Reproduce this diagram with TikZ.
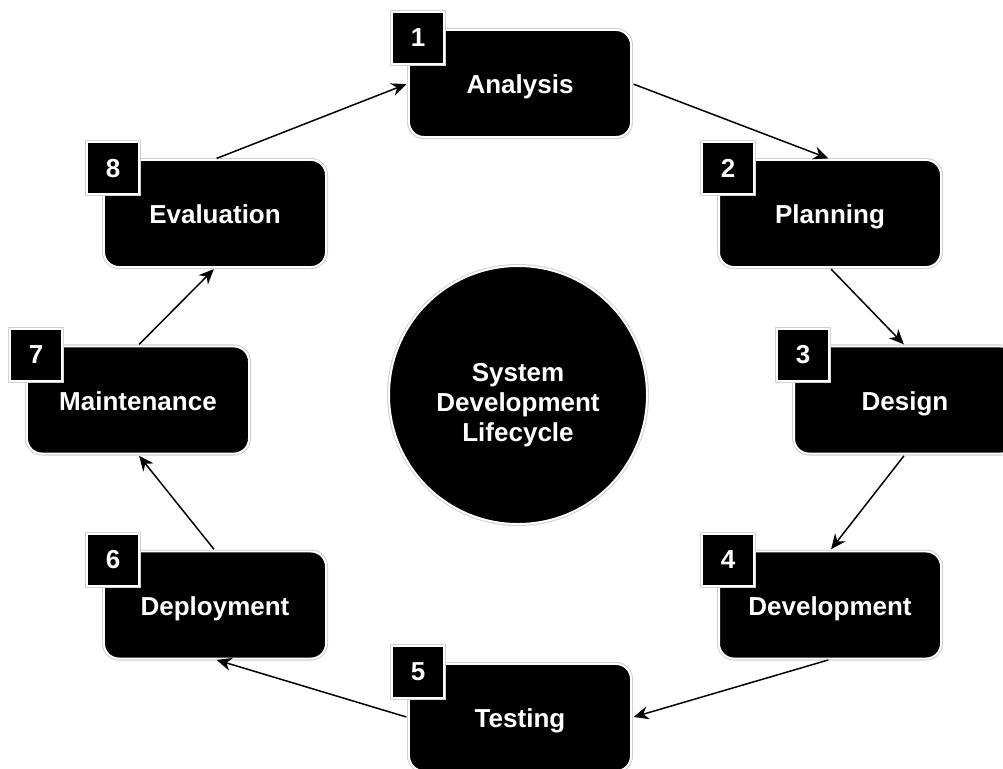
\documentclass[tikz,border=0pt]{standalone}
\usepackage{fontspec}
\setmainfont{Liberation Sans}
\usetikzlibrary{arrows.meta,positioning}

\begin{document}
\begin{tikzpicture}[x=0.02cm,y=-0.02cm,
        stage/.style={rectangle,rounded corners=0.3cm,fill=black,text=white,
            draw=white,line width=1.1pt,preaction={draw=black!18,line width=2.3pt},
            minimum width=4.44cm,minimum height=2.14cm,
            text height=1.35em,text depth=0.2em,
            font=\bfseries\fontsize{14.8}{17}\selectfont},
        numbox/.style={rectangle,fill=black,text=white,
            draw=white,line width=1.1pt,preaction={draw=black!18,line width=2.3pt},
            minimum size=1.04cm,font=\bfseries\fontsize{14.8}{17}\selectfont},
        hub/.style={circle,fill=black,
            draw=white,line width=1.1pt,preaction={draw=black!18,line width=2.3pt},
            minimum size=5.16cm},
        hubtext/.style={text=white,align=center,
            font=\bfseries\fontsize{14.8}{17}\selectfont},
        flow/.style={-{Stealth[length=8.5pt,width=7.5pt]},line width=0.85pt,
            shorten >=1pt,shorten <=1pt}]
            \useasboundingbox (0,0) rectangle (1003,768);
            \clip (0,0) rectangle (1003,768);

            \node[hub] (sdlc) at (518,395) {};
            \node[hubtext] (sdlctext) at ([yshift=-0.2cm]sdlc.center) {System\\Development\\Lifecycle};

            \node[stage] (analysis) at (520,83.5) {Analysis};
            \node[stage] (planning) at (830,213.5) {Planning};
            \node[stage] (design) at (905,400) {Design};
            \node[stage] (development) at (830,605) {Development};
            \node[stage] (testing) at (520,717.5) {Testing};
            \node[stage] (deployment) at (215,605) {Deployment};
            \node[stage] (maintenance) at (138,400) {Maintenance};
            \node[stage] (evaluation) at (215,213.5) {Evaluation};

            \node[numbox] (n1) at ([xshift=0.2cm,yshift=-0.18cm]analysis.north west) {1};
            \node[numbox] (n2) at ([xshift=0.2cm,yshift=-0.18cm]planning.north west) {2};
            \node[numbox] (n3) at ([xshift=0.2cm,yshift=-0.18cm]design.north west) {3};
            \node[numbox] (n4) at ([xshift=0.2cm,yshift=-0.18cm]development.north west) {4};
            \node[numbox] (n5) at ([xshift=0.2cm,yshift=-0.18cm]testing.north west) {5};
            \node[numbox] (n6) at ([xshift=0.2cm,yshift=-0.18cm]deployment.north west) {6};
            \node[numbox] (n7) at ([xshift=0.2cm,yshift=-0.18cm]maintenance.north west) {7};
            \node[numbox] (n8) at ([xshift=0.2cm,yshift=-0.18cm]evaluation.north west) {8};

            \draw[flow] (analysis.east) -- (planning.north);
            \draw[flow] (planning.south) -- (design.north);
            \draw[flow] (design.south) -- (development.north);
            \draw[flow] (development.south) -- (testing.east);
            \draw[flow] (testing.west) -- (deployment.south);
            \draw[flow] (deployment.north) -- (maintenance.south);
            \draw[flow] (maintenance.north) -- (evaluation.south);
            \draw[flow] (evaluation.north) -- (analysis.west);
        \end{tikzpicture}
\end{document}
